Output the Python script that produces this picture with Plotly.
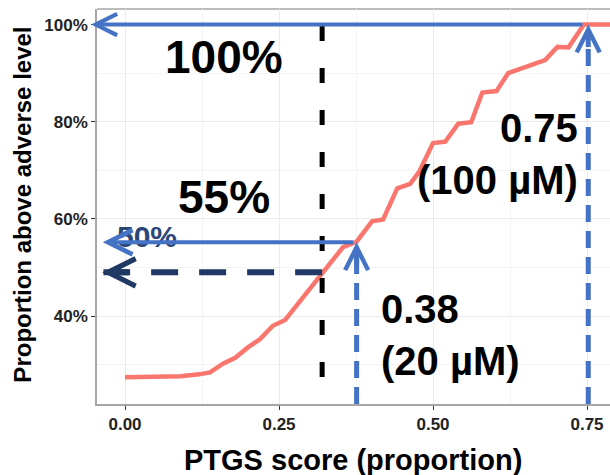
import plotly.graph_objects as go

# ---- data ----
ptgs_score = [0.000, 0.040, 0.073, 0.090, 0.120, 0.138, 0.159, 0.179, 0.200, 0.219,
              0.240, 0.260, 0.280, 0.300, 0.317, 0.333, 0.354, 0.376, 0.401, 0.419,
              0.442, 0.463, 0.478, 0.500, 0.520, 0.541, 0.562, 0.580, 0.603, 0.622,
              0.650, 0.682, 0.702, 0.720, 0.745, 0.790]
prop_above = [27.4, 27.4, 27.4, 27.6, 28.0, 28.4, 30.2, 31.4, 33.6, 35.2,
              38.0, 39.2, 42.4, 45.5, 48.2, 50.9, 54.2, 55.3, 59.5, 59.9,
              66.3, 67.2, 69.8, 75.6, 75.9, 79.6, 79.9, 86.0, 86.3, 90.0,
              91.2, 92.7, 95.4, 95.3, 100.0, 100.0]

x_tick_vals = [0.0, 0.25, 0.50, 0.75]
x_tick_text = ["0.00", "0.25", "0.50", "0.75"]
y_tick_vals = [40, 60, 80, 100]
y_tick_text = ["40%", "60%", "80%", "100%"]

# reference markers
score_20uM, prop_20uM = 0.376, 55.2
score_100uM, prop_100uM = 0.752, 100.0
score_cut, prop_cut = 0.32, 49.0
curve_hits_100 = 0.745

X_RANGE = [-0.04545, 0.7873]
Y_RANGE = [21.9, 103.2]
LEFT_TIP = -0.055

FONT = "Liberation Sans, Arial, sans-serif"
BLUE = "#4472C4"
NAVY = "#1F3864"
RED = "#F8766D"

fig = go.Figure()

fig.add_trace(go.Scatter(x=ptgs_score, y=prop_above, mode="lines",
                         line=dict(color=RED, width=4.5), hoverinfo="skip"))

# black dashed vertical cut-off line
fig.add_trace(go.Scatter(x=[score_cut, score_cut], y=[prop_100uM - 0.3, Y_RANGE[0]],
                         mode="lines", line=dict(color="black", width=5, dash="15px,27px"),
                         hoverinfo="skip"))
# navy dashed horizontal line (drawn right to left)
fig.add_trace(go.Scatter(x=[score_cut, LEFT_TIP + 0.02], y=[prop_cut, prop_cut],
                         mode="lines", line=dict(color=NAVY, width=6, dash="27px,21px"),
                         hoverinfo="skip", cliponaxis=False))
# blue dashed verticals
for sx, sy in [(score_20uM, prop_20uM), (score_100uM, prop_100uM)]:
    fig.add_trace(go.Scatter(x=[sx, sx], y=[Y_RANGE[0], sy - 3], mode="lines",
                             line=dict(color=BLUE, width=5, dash="17px,9px"),
                             hoverinfo="skip", cliponaxis=False))

ann = []
# "50%" label (under the arrow)
ann.append(dict(x=0.036, y=56.4, xref="x", yref="y", text="50%", showarrow=False,
                font=dict(family=FONT, size=30, color="#2B4677", weight="bold")))
# solid blue arrows
ann.append(dict(x=LEFT_TIP, y=prop_100uM, ax=curve_hits_100, ay=prop_100uM,
                xref="x", yref="y", axref="x", ayref="y", text="", showarrow=True,
                arrowhead=5, arrowwidth=4, arrowsize=1.05, arrowcolor=BLUE, standoff=0))
ann.append(dict(x=-0.036, y=prop_20uM, ax=score_20uM - 0.003, ay=prop_20uM,
                xref="x", yref="y", axref="x", ayref="y", text="", showarrow=True,
                arrowhead=5, arrowwidth=4, arrowsize=1.2, arrowcolor=BLUE, standoff=0))
# navy dashed arrow head
ann.append(dict(x=-0.037, y=prop_cut, ax=28, ay=0, xref="x", yref="y", text="",
                showarrow=True, arrowhead=5, arrowwidth=6, arrowsize=0.9,
                arrowcolor=NAVY, standoff=0))
# blue dashed arrow heads
for sx, sy in [(score_20uM, prop_20uM), (score_100uM, prop_100uM)]:
    ann.append(dict(x=sx, y=sy, ax=0, ay=24, xref="x", yref="y", text="",
                    showarrow=True, arrowhead=5, arrowwidth=5, arrowsize=0.9,
                    arrowcolor=BLUE, standoff=0))

big = dict(family=FONT, size=46, color="black", weight="bold")
mid = dict(family=FONT, size=40, color="black", weight="bold")
ann.append(dict(x=0.161, y=93.3, xref="x", yref="y", text="100%", showarrow=False, font=big))
ann.append(dict(x=0.161, y=64.5, xref="x", yref="y", text="55%", showarrow=False, font=big))
ann.append(dict(x=0.739, y=73.4, xref="x", yref="y", text="0.75<br>(100 µM)",
                showarrow=False, xanchor="right", align="right", font=mid))
ann.append(dict(x=0.412, y=36.1, xref="x", yref="y", text="0.38<br>(20 µM)",
                showarrow=False, xanchor="left", align="left", font=mid))

# axis titles
ann.append(dict(x=0.499, y=-0.142, xref="paper", yref="paper", text="PTGS score (proportion)",
                showarrow=False, xanchor="center", yanchor="middle",
                font=dict(family=FONT, size=29, color="black", weight="bold")))
ann.append(dict(x=-0.146, y=0.505, xref="paper", yref="paper",
                text="Proportion above adverse level", textangle=-90,
                showarrow=False, xanchor="center", yanchor="middle",
                font=dict(family=FONT, size=24, color="black", weight="bold")))

axis_common = dict(showgrid=True, gridcolor="#EBEBEB", gridwidth=1.1, zeroline=False,
                   ticks="outside", ticklen=4, tickwidth=1.1, tickcolor="#333333",
                   showline=True, linecolor="#A6A6A6", linewidth=1.5,
                   tickfont=dict(family=FONT, size=17, color="#222222", weight="bold"))

fig.update_layout(
    width=610, height=475, margin=dict(l=97, r=0, t=9, b=71),
    paper_bgcolor="white", plot_bgcolor="white", showlegend=False,
    xaxis=dict(range=X_RANGE, tickvals=x_tick_vals, ticktext=x_tick_text,
               minor=dict(tickvals=[0.125, 0.375, 0.625], showgrid=True,
                          gridcolor="#F4F4F4", gridwidth=0.7, ticks=""),
               **axis_common),
    yaxis=dict(range=Y_RANGE, tickvals=y_tick_vals, ticktext=y_tick_text,
               minor=dict(tickvals=[30, 50, 70, 90], showgrid=True,
                          gridcolor="#F4F4F4", gridwidth=0.7, ticks=""),
               **axis_common),
    annotations=ann,
    shapes=[dict(type="line", xref="paper", yref="paper", x0=0, x1=1, y0=1, y1=1,
                 line=dict(color="#A6A6A6", width=1.5), layer="below")],
)

fig.write_html("out.html", config={"displayModeBar": False},
               post_script="document.body.style.margin='0';document.body.style.overflow='hidden';")
